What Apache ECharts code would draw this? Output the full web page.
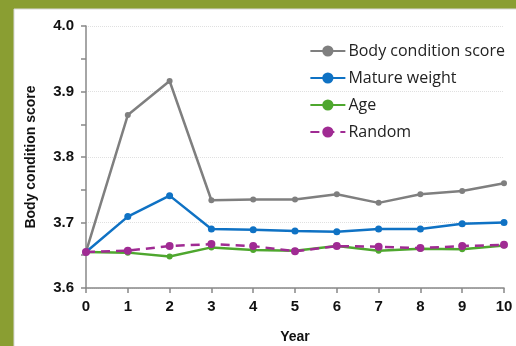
<!DOCTYPE html>
<html><head><meta charset="utf-8">
<script src="https://cdn.jsdelivr.net/npm/echarts@6/dist/echarts.min.js"></script>
<style>html,body{margin:0;padding:0;background:#8A9E32;}#c{width:516px;height:346px;}</style>
</head><body><div id="c"></div>
<script>
const years = ['0','1','2','3','4','5','6','7','8','9','10'];
const bodyCondition = [3.655, 3.864, 3.916, 3.734, 3.735, 3.735, 3.743, 3.730, 3.743, 3.748, 3.760];
const matureWeight = [3.655, 3.709, 3.741, 3.690, 3.689, 3.687, 3.686, 3.690, 3.690, 3.698, 3.700];
const age = [3.655, 3.654, 3.648, 3.662, 3.658, 3.657, 3.664, 3.657, 3.660, 3.659, 3.665];
const randomS = [3.655, 3.657, 3.664, 3.667, 3.664, 3.656, 3.664, 3.663, 3.661, 3.664, 3.666];
const yTicks = [3.6, 3.7, 3.8, 3.9, 4.0];

const chart = echarts.init(document.getElementById('c'));
const lab = {fontFamily:'Liberation Sans', fontWeight:'bold', fontSize:14, color:'#111'};
function s(name, data, color, sym, dashed){
  return {name, type:'line', data, symbol:'circle', symbolSize:sym,
    itemStyle:{color}, lineStyle:{color, width:2.5, type: dashed ? [9,6] : 'solid'}, z: dashed?5:3};
}
chart.setOption({
  animation:false,
  graphic:[{type:'rect', shape:{x:14,y:9,width:510,height:340}, style:{fill:'#fff', stroke:'#d8d8d8', lineWidth:1}, z:-10, silent:true}],
  grid:{left:86, right:12, top:26, bottom:58, outerBoundsMode:'none', containLabel:false},
  legend:{right:6, top:38, orient:'vertical', itemGap:11, itemWidth:35, itemHeight:14,
    textStyle:{fontFamily:'Open Sans', fontSize:16, color:'#222', padding:[0,0,0,-2]},
    data:['Body condition score','Mature weight','Age','Random']},
  xAxis:{type:'category', data:years, boundaryGap:false,
    name:'Year', nameLocation:'middle', nameGap:42, nameTextStyle:{...lab, fontSize:14},
    axisLine:{lineStyle:{color:'#888', width:1.5}},
    axisTick:{show:true, length:5, lineStyle:{color:'#888', width:1.5}},
    axisLabel:{...lab, fontSize:15, margin:11}, splitLine:{show:false}},
  yAxis:{type:'value', min:3.6, max:4.0, interval:0.1,
    name:'Body condition score', nameLocation:'middle', nameGap:48, nameTextStyle:{...lab, fontSize:14},
    axisLine:{show:true, lineStyle:{color:'#888', width:1.5}},
    axisTick:{show:true, length:5, lineStyle:{color:'#888', width:1.5}},
    minorTick:{show:true, splitNumber:2, length:5, lineStyle:{color:'#888', width:1.5}},
    axisLabel:{...lab, fontSize:15, margin:12, formatter:v=>v.toFixed(1)},
    splitLine:{show:true, lineStyle:{color:'#e0e0e0', width:1, type:'dotted'}}},
  series:[
    s('Body condition score', bodyCondition, '#7F7F7F', 6, false),
    s('Mature weight', matureWeight, '#0F72C4', 7, false),
    s('Age', age, '#4EA72E', 6, false),
    s('Random', randomS, '#A02B93', 8, true)
  ]
});
</script></body></html>
